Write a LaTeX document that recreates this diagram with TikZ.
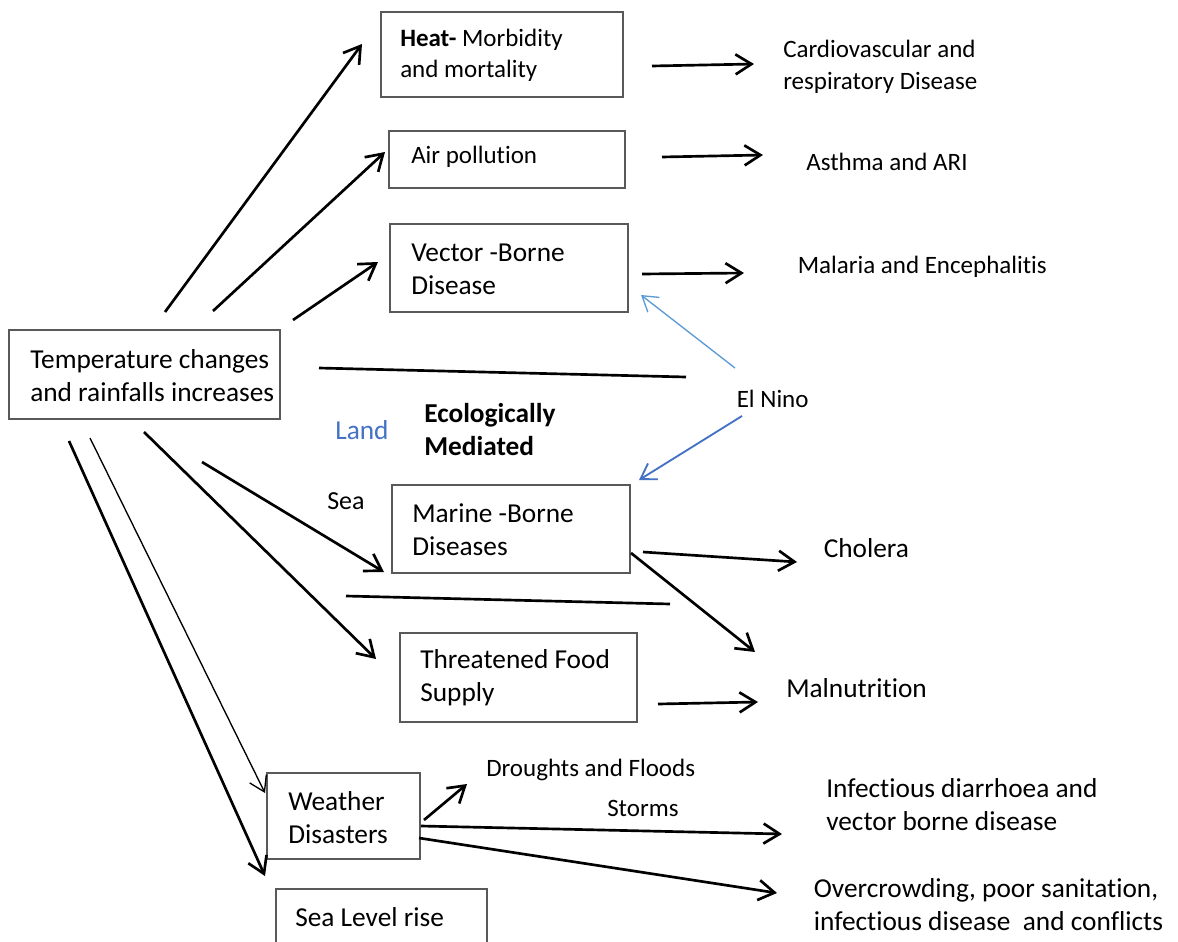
\documentclass[tikz,border=0pt]{standalone}
\usepackage{fontspec}
\setmainfont{Carlito}[Ligatures={NoCommon}]
\usetikzlibrary{arrows.meta}
\definecolor{boxgray}{HTML}{595959}
\definecolor{lightblue}{HTML}{5B9BD5}
\definecolor{midblue}{HTML}{4472C4}
\newcommand{\bigtxt}{\fontsize{20.5}{24.75}\selectfont}
\newcommand{\smalltxt}{\fontsize{18.75}{24}\selectfont}
\begin{document}
\begin{tikzpicture}[x=0.75pt,y=-0.75pt,
  box/.style={draw=boxgray, line width=1pt, fill=white, inner sep=0pt},
  btxt/.style={font=\bigtxt, anchor=west, align=left, inner sep=0pt},
  stxt/.style={font=\smalltxt, anchor=west, align=left, inner sep=0pt},
  arr/.style={line width=2pt, -{Straight Barb[length=12pt,width=15pt]}},
  thinarr/.style={line width=1pt, -{Straight Barb[length=11pt,width=14pt]}},
  plain/.style={line width=2pt},
  bluearr/.style={line width=1pt, -{Straight Barb[length=11pt,width=14pt]}}
]
\useasboundingbox (0,0) rectangle (1178,942);
\fill[white] (0,0) rectangle (1178,942);

% boxes
\node[box, minimum width=271*0.75pt, minimum height=89*0.75pt] (temp) at (144.5,374.5) {};
\node[box, minimum width=242*0.75pt, minimum height=85*0.75pt] (heat) at (502,54.5) {};
\node[box, minimum width=236*0.75pt, minimum height=57*0.75pt] (air) at (507,159.5) {};
\node[box, minimum width=238*0.75pt, minimum height=88*0.75pt] (vector) at (509,268) {};
\node[box, minimum width=238*0.75pt, minimum height=88*0.75pt] (marine) at (511,529) {};
\node[box, minimum width=237*0.75pt, minimum height=89*0.75pt] (food) at (518.5,677.5) {};
\node[box, minimum width=153*0.75pt, minimum height=86*0.75pt] (weather) at (343.5,816) {};
\node[box, minimum width=211*0.75pt, minimum height=56*0.75pt] (sealevel) at (381.5,917) {};

% box texts
\node[stxt, font=\fontsize{18.75}{23.25}\selectfont] (heatt) at (400,55) {\textbf{Heat-} Morbidity\\and mortality};
\node[stxt] (airt) at (411,157) {Air pollution};
\node[btxt] (vectort) at (411,269) {Vector -Borne\\Disease};
\node[btxt] (tempt) at (30,376) {Temperature changes\\and rainfalls increases};
\node[btxt] (marinet) at (412,530) {Marine -Borne\\Diseases};
\node[btxt] (foodt) at (420,678) {Threatened Food\\Supply};
\node[btxt] (weathert) at (288,818) {Weather\\Disasters};
\node[btxt] (sealevelt) at (295,917) {Sea Level rise};

% free labels
\node[stxt] (cardio) at (783,67) {Cardiovascular and\\respiratory Disease};
\node[stxt] (asthma) at (806,162) {Asthma and ARI};
\node[stxt] (malaria) at (797.5,267) {Malaria and Encephalitis};
\node[stxt] (elnino) at (736.5,399) {El Nino};
\node[btxt, text=midblue] (land) at (335,430) {Land};
\node[btxt, font=\bigtxt\bfseries] (eco) at (424,430) {Ecologically\\Mediated};
\node[btxt, font=\fontsize{19.5}{24}\selectfont] (sea) at (327,501) {Sea};
\node[btxt] (cholera) at (823.5,548) {Cholera};
\node[btxt] (malnut) at (786,688) {Malnutrition};
\node[stxt] (droughts) at (486,770) {Droughts and Floods};
\node[stxt] (storms) at (607,808) {Storms};
\node[btxt] (infect) at (826,805) {Infectious diarrhoea and\\vector borne disease};
\node[btxt] (overc) at (813.6,905) {Overcrowding, poor sanitation,\\infectious disease\ \ and conflicts};

% connector end points
\coordinate (t1) at (165,312);  \coordinate (h1) at (362,44);
\coordinate (t2) at (213,311);  \coordinate (a2) at (385,152);
\coordinate (t3) at (293,320);  \coordinate (v3) at (378,262);
\coordinate (l1a) at (319,368); \coordinate (l1b) at (686,377);
\coordinate (t5) at (202,462);  \coordinate (m5) at (384,572);
\coordinate (t6) at (144,432);  \coordinate (f6) at (376,659);
\coordinate (t7) at (90,438);   \coordinate (w7) at (265,793);
\coordinate (t8) at (69,441);   \coordinate (s8) at (265,876);
\coordinate (l2a) at (346,596); \coordinate (l2b) at (670,604);
\coordinate (h10) at (652,66);  \coordinate (c10) at (754,64);
\coordinate (a11) at (662,157); \coordinate (c11) at (763,155);
\coordinate (v12) at (642,274); \coordinate (c12) at (744,273);
\coordinate (e13) at (735,368); \coordinate (v13) at (641,295);
\coordinate (e14) at (742,416); \coordinate (m14) at (639,480);
\coordinate (m15) at (643,552); \coordinate (c15) at (797,562);
\coordinate (m16) at (631,553); \coordinate (c16) at (755,652);
\coordinate (f17) at (658,704); \coordinate (c17) at (758,702);
\coordinate (w18) at (424,820); \coordinate (d18) at (467,784);
\coordinate (w19) at (421,826); \coordinate (c19) at (782,834);
\coordinate (w20) at (419,838); \coordinate (c20) at (777,893);

% connectors
\draw[arr] (t1) -- (h1);
\draw[arr] (t2) -- (a2);
\draw[arr] (t3) -- (v3);
\draw[plain] (l1a) -- (l1b);
\draw[arr] (t5) -- (m5);
\draw[arr] (t6) -- (f6);
\draw[thinarr] (t7) -- (w7);
\draw[arr] (t8) -- (s8);
\draw[plain] (l2a) -- (l2b);
\draw[arr] (h10) -- (c10);
\draw[arr] (a11) -- (c11);
\draw[arr] (v12) -- (c12);
\draw[bluearr, draw=lightblue] (e13) -- (v13);
\draw[bluearr, draw=midblue, line width=1.4pt] (e14) -- (m14);
\draw[arr] (m15) -- (c15);
\draw[arr] (m16) -- (c16);
\draw[arr] (f17) -- (c17);
\draw[arr] (w18) -- (d18);
\draw[arr] (w19) -- (c19);
\draw[arr] (w20) -- (c20);
\end{tikzpicture}
\end{document}
